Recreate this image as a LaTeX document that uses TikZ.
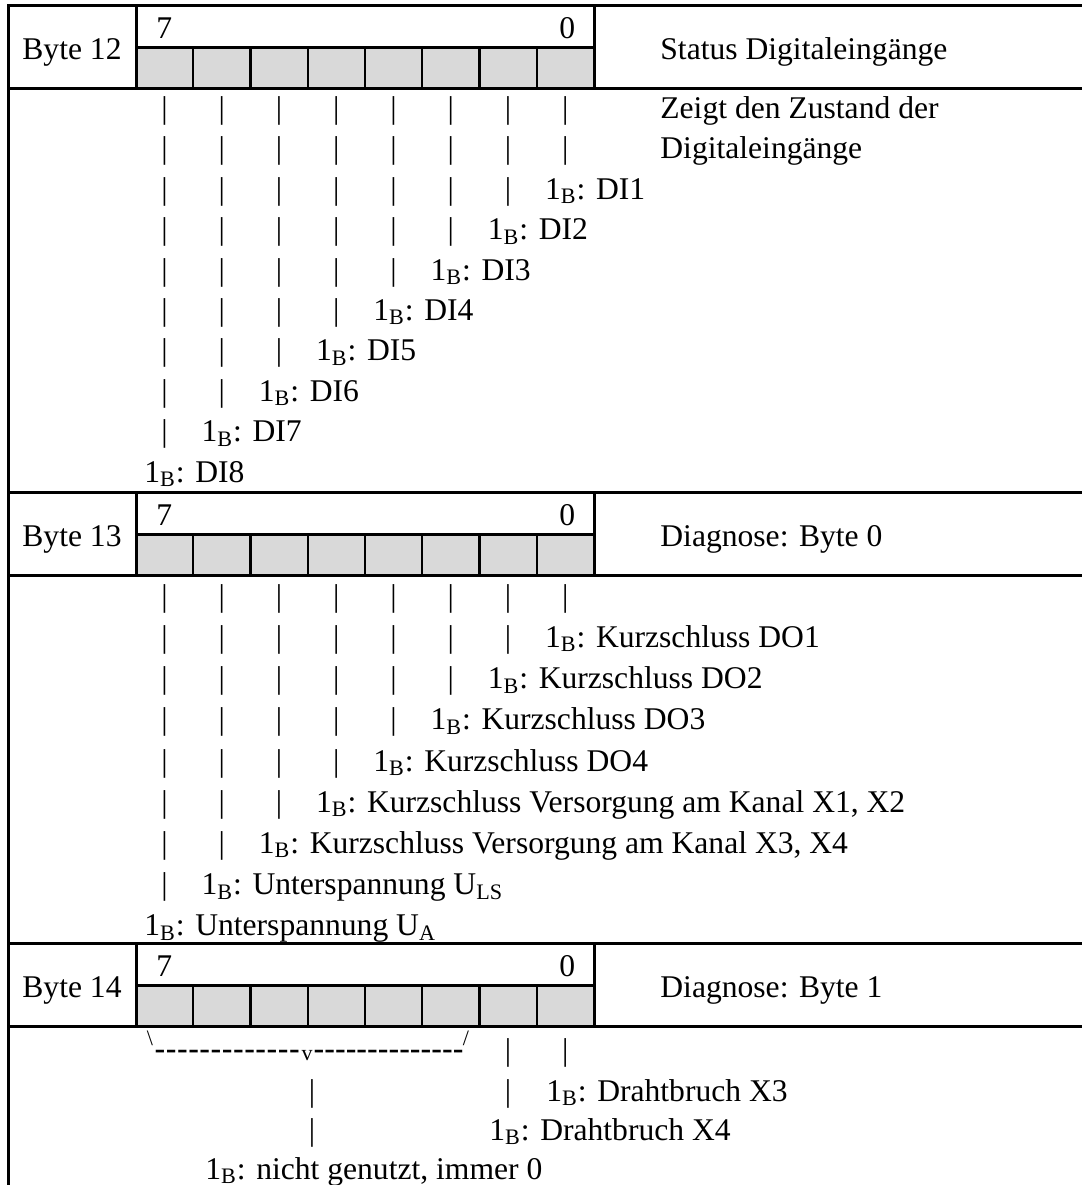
\documentclass[tikz,border=0pt]{standalone}
\usepackage{fontspec}
\setmainfont{Liberation Serif}
\newfontfamily\dashfont{Liberation Sans}
\usepackage{tikz}

\definecolor{cellgrey}{RGB}{217,217,217}

\tikzset{
	rule/.style={line width=1.5pt, line cap=rect},
	thinrule/.style={line width=1.2pt},
	txt/.style={inner sep=0pt, anchor=base west, font=\fontsize{15.8}{18}\selectfont},
	bar/.style={inner sep=0pt, anchor=base, font=\fontsize{15.8}{18}\selectfont},
	tick/.style={inner sep=0pt, anchor=base, font=\fontsize{11}{13}\selectfont},
	hyphen/.style={inner sep=0pt, anchor=base west, font=\dashfont\fontsize{16.8}{18}\selectfont}
}

\begin{document}
\begin{tikzpicture}[x=0.5pt,y=-0.5pt]
		\useasboundingbox (0,0) rectangle (1082,1185);

% header rows with the bit boxes
\foreach \yt/\bn/\head in {5/12/{Status Digitaleingänge},492/13/{Diagnose: Byte 0},943/14/{Diagnose: Byte 1}}{
		\fill[cellgrey] (136,\yt+42) rectangle (594,\yt+83);
		\foreach \i in {1,...,7}
			\draw[thinrule] (136+57.25*\i,\yt+42) -- (136+57.25*\i,\yt+83);
		\draw[rule] (136,\yt+42) -- (594,\yt+42);
		\draw[rule] (136,\yt) -- (136,\yt+83);
		\draw[rule] (594,\yt) -- (594,\yt+83);
		\draw[rule] (8,\yt) -- (1082,\yt);
		\draw[rule] (8,\yt+83) -- (1082,\yt+83);
		\node[txt] (byte\bn) at (22,\yt+54) {Byte \bn};
		\node[txt] (msb\bn) at (156,\yt+33) {7};
		\node[txt] (lsb\bn) at (559,\yt+33) {0};
		\node[txt] (head\bn) at (660,\yt+54) {\head};
}
\draw[rule] (8,5) -- (8,1185);

% byte 12
\node[txt] (note1) at (660,118.4) {Zeigt den Zustand der};
\node[txt] (note2) at (660,158.8) {Digitaleingänge};
\foreach \c/\lab in {0/DI8,1/DI7,2/DI6,3/DI5,4/DI4,5/DI3,6/DI2,7/DI1}{
		\pgfmathtruncatemacro{\rows}{9-\c}
		\foreach \k in {1,...,\rows}
			\node[bar] (a\c-\k) at (164.6+57.25*\c,78+40.4*\k) {|};
		\node[txt] (alab\c) at (144+57.25*\c,118.4+40.4*\rows) {1\textsubscript{B}: \lab};
}

% byte 13
\foreach \c/\lab in {0/{Unterspannung U\textsubscript{A}},1/{Unterspannung U\textsubscript{LS}},2/{Kurzschluss Versorgung am Kanal X3, X4},3/{Kurzschluss Versorgung am Kanal X1, X2},4/{Kurzschluss DO4},5/{Kurzschluss DO3},6/{Kurzschluss DO2},7/{Kurzschluss DO1}}{
		\pgfmathtruncatemacro{\rows}{8-\c}
		\foreach \k in {1,...,\rows}
			\node[bar] (b\c-\k) at (164.6+57.25*\c,565+41.2*\k) {|};
		\node[txt] (blab\c) at (144+57.25*\c,606.2+41.2*\rows) {1\textsubscript{B}: \lab};
}

% byte 14
\node[tick] (lsl) at (150,1045) {\textbackslash};
\foreach \i in {0,...,12}
		\node[hyphen] (dl\i) at (154+11.2*\i,1060) {-};
\node[tick] (vee) at (307,1060) {v};
\foreach \i in {0,...,13}
		\node[hyphen] (dr\i) at (313+10.7*\i,1060) {-};
\node[tick] (rsl) at (466,1045) {/};
\node[bar] (c6-1) at (508.1,1060) {|};
\node[bar] (c7-1) at (565.4,1060) {|};
\node[bar] (c6-2) at (508.1,1101) {|};
\node[bar] (cv-2) at (312,1101) {|};
\node[bar] (cv-3) at (312,1140) {|};
\node[txt] (clab7) at (546,1101) {1\textsubscript{B}: Drahtbruch X3};
\node[txt] (clab6) at (489,1140) {1\textsubscript{B}: Drahtbruch X4};
\node[txt] (clab0) at (205,1179) {1\textsubscript{B}: nicht genutzt, immer 0};
		\end{tikzpicture}
\end{document}
